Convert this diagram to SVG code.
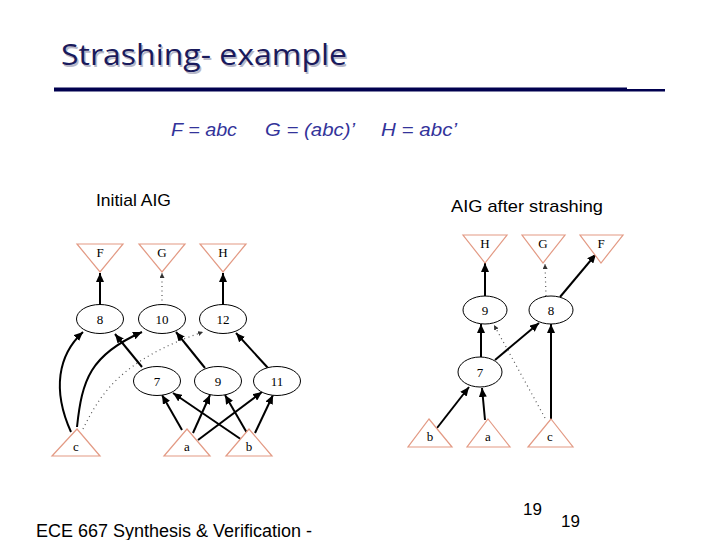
<svg xmlns="http://www.w3.org/2000/svg" width="720" height="540" viewBox="0 0 720 540">
<defs>
<style>
.title{font-family:"Open Sans","Liberation Sans",sans-serif;font-size:29px;fill:#1a1a5c}
.shadow{font-family:"Open Sans","Liberation Sans",sans-serif;font-size:29px;fill:#b8b8c8}
.formula{font-family:"Liberation Sans",Arial,sans-serif;font-style:italic;font-size:18px;fill:#33339a}
.cap{font-family:"Liberation Sans",Arial,sans-serif;font-size:17px;fill:#000}
.tri{fill:#fff;stroke:#e39a84;stroke-width:1.2}
.ell{fill:#fff;stroke:#000;stroke-width:1}
.lbl{font-family:"Liberation Serif","Times New Roman",serif;font-size:13px;fill:#000;text-anchor:middle}
.e{fill:none;stroke:#000;stroke-width:2}
.d{fill:none;stroke:#555;stroke-width:1.2;stroke-dasharray:1 3.5}
</style>
<marker id="ah" markerUnits="userSpaceOnUse" markerWidth="10" markerHeight="8" refX="9" refY="4" orient="auto">
<path d="M0,0 L9,4 L0,8 z" fill="#000"/>
</marker>
<marker id="ahs" markerUnits="userSpaceOnUse" markerWidth="6" markerHeight="6" refX="5" refY="2.5" orient="auto">
<path d="M0,0 L5,2.5 L0,5 z" fill="#333"/>
</marker>
</defs>
<rect width="720" height="540" fill="#fff"/>
<g id="title">
<text class="shadow" x="62.5" y="66.5" textLength="286" lengthAdjust="spacingAndGlyphs">Strashing- example</text>
<text class="title" x="61" y="65" textLength="286" lengthAdjust="spacingAndGlyphs">Strashing- example</text>
<rect x="54" y="87.5" width="573" height="4" fill="#00004f"/>
<rect x="627" y="89" width="38" height="2.5" fill="#00004f"/>
</g>
<g id="formulas">
<text class="formula" x="171" y="136" textLength="66" lengthAdjust="spacingAndGlyphs">F = abc</text>
<text class="formula" x="265" y="136" textLength="90" lengthAdjust="spacingAndGlyphs">G = (abc)’</text>
<text class="formula" x="381" y="136" textLength="76" lengthAdjust="spacingAndGlyphs">H = abc’</text>
</g>
<text class="cap" x="96" y="206" textLength="75" lengthAdjust="spacingAndGlyphs">Initial AIG</text>
<text class="cap" x="451" y="212" textLength="152" lengthAdjust="spacingAndGlyphs">AIG after strashing</text>

<g id="connectors-left">
<line class="e" x1="100" y1="305" x2="100" y2="273" marker-end="url(#ah)"/>
<line class="d" x1="162" y1="305" x2="162" y2="273" marker-end="url(#ahs)"/>
<line class="e" x1="223" y1="305" x2="223" y2="273" marker-end="url(#ah)"/>
<path class="e" d="M71,432 C52,390 58,355 83,332" marker-end="url(#ah)"/>
<path class="e" d="M77,427 C82,380 90,355 142,332" marker-end="url(#ah)"/>
<path class="d" d="M83,429 C100,395 120,360 203,332" marker-end="url(#ahs)"/>
<line class="e" x1="142" y1="367" x2="115" y2="334" marker-end="url(#ah)"/>
<line class="e" x1="205" y1="368" x2="176" y2="332" marker-end="url(#ah)"/>
<line class="e" x1="268" y1="368" x2="236" y2="333" marker-end="url(#ah)"/>
<line class="e" x1="182" y1="430" x2="162" y2="395" marker-end="url(#ah)"/>
<line class="e" x1="242" y1="440" x2="173" y2="393" marker-end="url(#ah)"/>
<line class="e" x1="193" y1="433" x2="210" y2="395" marker-end="url(#ah)"/>
<line class="e" x1="247" y1="433" x2="225" y2="395" marker-end="url(#ah)"/>
<line class="e" x1="198" y1="440" x2="262" y2="392" marker-end="url(#ah)"/>
<line class="e" x1="255" y1="433" x2="273" y2="395" marker-end="url(#ah)"/>
</g>

<g id="connectors-right">
<line class="e" x1="485" y1="296" x2="485" y2="263" marker-end="url(#ah)"/>
<line class="d" x1="546" y1="296" x2="545" y2="264" marker-end="url(#ahs)"/>
<line class="e" x1="560" y1="297" x2="596" y2="254" marker-end="url(#ah)"/>
<line class="e" x1="481" y1="357" x2="481" y2="324" marker-end="url(#ah)"/>
<line class="e" x1="495" y1="360" x2="539" y2="323" marker-end="url(#ah)"/>
<line class="d" x1="545" y1="418" x2="494" y2="325" marker-end="url(#ahs)"/>
<line class="e" x1="551" y1="419" x2="551" y2="324" marker-end="url(#ah)"/>
<line class="e" x1="437" y1="428" x2="469" y2="387" marker-end="url(#ah)"/>
<line class="e" x1="485" y1="420" x2="482" y2="388" marker-end="url(#ah)"/>
</g>

<g id="L-F"><polygon class="tri" points="77,244 123,244 100,272"/><text class="lbl" x="100" y="257">F</text></g>
<g id="L-G"><polygon class="tri" points="139,244 185,244 162,272"/><text class="lbl" x="162" y="257">G</text></g>
<g id="L-H"><polygon class="tri" points="200,244 246,244 223,272"/><text class="lbl" x="223" y="257">H</text></g>
<g id="L-8"><ellipse class="ell" cx="100" cy="319" rx="23.5" ry="14.5"/><text class="lbl" x="100" y="323.5">8</text></g>
<g id="L-10"><ellipse class="ell" cx="162" cy="319" rx="23.5" ry="14.5"/><text class="lbl" x="162" y="323.5">10</text></g>
<g id="L-12"><ellipse class="ell" cx="223" cy="319" rx="23.5" ry="14.5"/><text class="lbl" x="223" y="323.5">12</text></g>
<g id="L-7"><ellipse class="ell" cx="157" cy="381" rx="23.5" ry="14.5"/><text class="lbl" x="157" y="385.5">7</text></g>
<g id="L-9"><ellipse class="ell" cx="218" cy="381" rx="23.5" ry="14.5"/><text class="lbl" x="218" y="385.5">9</text></g>
<g id="L-11"><ellipse class="ell" cx="277" cy="381" rx="23.5" ry="14.5"/><text class="lbl" x="277" y="385.5">11</text></g>
<g id="L-c"><polygon class="tri" points="77,429 100,456 52,456"/><text class="lbl" x="76" y="451">c</text></g>
<g id="L-a"><polygon class="tri" points="187,429 210,456 164,456"/><text class="lbl" x="187" y="451">a</text></g>
<g id="L-b"><polygon class="tri" points="249,429 272,456 226,456"/><text class="lbl" x="249" y="451">b</text></g>

<g id="R-H"><polygon class="tri" points="463,235 507,235 485,263"/><text class="lbl" x="485" y="248">H</text></g>
<g id="R-G"><polygon class="tri" points="522,235 565,235 543,263"/><text class="lbl" x="543" y="248">G</text></g>
<g id="R-F"><polygon class="tri" points="580,235 623,235 601,263"/><text class="lbl" x="601" y="248">F</text></g>
<g id="R-9"><ellipse class="ell" cx="485" cy="310" rx="22" ry="14"/><text class="lbl" x="485" y="314.5">9</text></g>
<g id="R-8"><ellipse class="ell" cx="551" cy="310" rx="22" ry="14"/><text class="lbl" x="551" y="314.5">8</text></g>
<g id="R-7"><ellipse class="ell" cx="480" cy="372" rx="22" ry="15"/><text class="lbl" x="480" y="376.5">7</text></g>
<g id="R-b"><polygon class="tri" points="429,419 452,447 408,447"/><text class="lbl" x="430" y="441">b</text></g>
<g id="R-a"><polygon class="tri" points="488,419 510,447 467,447"/><text class="lbl" x="488" y="441">a</text></g>
<g id="R-c"><polygon class="tri" points="551,419 573,447 528,447"/><text class="lbl" x="550" y="441">c</text></g>

<g id="footer">
<text class="cap" x="36" y="537" style="font-size:17.5px" textLength="276" lengthAdjust="spacingAndGlyphs">ECE 667 Synthesis &amp; Verification -</text>
<text class="cap" x="523" y="515">19</text>
<text class="cap" x="561" y="527">19</text>
</g>
</svg>
